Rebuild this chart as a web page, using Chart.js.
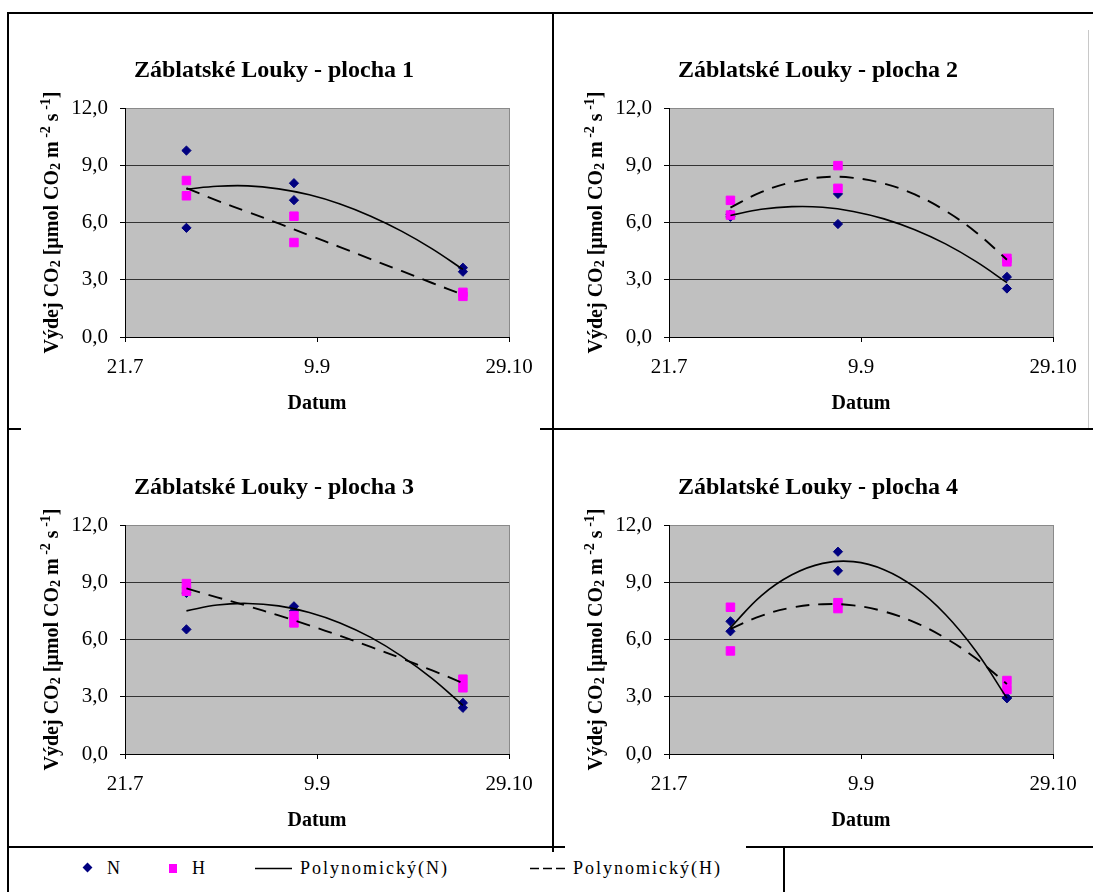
<!DOCTYPE html>
<html>
<head>
<meta charset="utf-8">
<script src="https://cdn.jsdelivr.net/npm/chart.js@4.4.0/dist/chart.umd.min.js"></script>
<style>
html,body{margin:0;padding:0;background:#fff;overflow:hidden;width:1093px;height:892px;}
#wrap{position:relative;width:1093px;height:892px;}
canvas{position:absolute;}
.ln{position:absolute;background:#000;z-index:5;}
.lg{position:absolute;font-family:"Liberation Serif",serif;font-size:18px;letter-spacing:2px;color:#000;line-height:20px;top:858px;white-space:nowrap;}
</style>
</head>
<body>
<div id="wrap">
  <canvas id="c1" width="545" height="415" style="left:8px;top:13px"></canvas>
  <canvas id="c2" width="545" height="415" style="left:552px;top:13px"></canvas>
  <canvas id="c3" width="545" height="415" style="left:8px;top:430px"></canvas>
  <canvas id="c4" width="545" height="415" style="left:552px;top:430px"></canvas>

  <div class="ln" style="left:7px;top:12px;width:2px;height:880px"></div>
  <div class="ln" style="left:7px;top:12px;width:1086px;height:2px"></div>
  <div class="ln" style="left:552px;top:12px;width:2px;height:840px"></div>
  <div class="ln" style="left:552px;top:428px;width:541px;height:2px"></div>
  <div class="ln" style="left:7px;top:428px;width:14px;height:2px"></div>
  <div class="ln" style="left:540px;top:428px;width:14px;height:2px"></div>
  <div class="ln" style="left:7px;top:846px;width:558px;height:2px"></div>
  <div class="ln" style="left:746px;top:846px;width:347px;height:2px"></div>
  <div class="ln" style="left:783px;top:846px;width:2px;height:46px"></div>
  <div class="ln" style="left:1088px;top:30px;width:1px;height:398px;background:#c8c8c8"></div>

  <div style="position:absolute;left:84px;top:864px;width:7px;height:7px;background:#000080;transform:rotate(45deg)"></div>
  <div class="lg" style="left:107px">N</div>
  <div style="position:absolute;left:169px;top:864px;width:8px;height:9px;background:#FF00FF"></div>
  <div class="lg" style="left:192px">H</div>
  <svg style="position:absolute;left:250px;top:860px" width="300" height="16"><line x1="5" y1="8.5" x2="42" y2="8.5" stroke="#000" stroke-width="1.5"/></svg>
  <div class="lg" style="left:300px">Polynomický(N)</div>
  <svg style="position:absolute;left:528px;top:860px" width="45" height="16"><line x1="2" y1="8.5" x2="40" y2="8.5" stroke="#000" stroke-width="1.5" stroke-dasharray="9,4"/></svg>
  <div class="lg" style="left:573px">Polynomický(H)</div>
</div>

<script>
// ---- data ----
// x values are days after 21.7 (21.7 = 0, 9.9 = 50, 29.10 = 100)
const tickValuesX = [0, 50, 100];
const tickLabelsX = ["21.7", "9.9", "29.10"];
const tickLabelsY = ["0,0", "3,0", "6,0", "9,0", "12,0"];
const panelTitles = ["Záblatské Louky - plocha 1", "Záblatské Louky - plocha 2",
                     "Záblatské Louky - plocha 3", "Záblatské Louky - plocha 4"];
const axisTitleX = "Datum";
const yTitleParts = [["Výdej CO", 0], ["2", -1], [" [µmol CO", 0], ["2", -1], [" m", 0], [" -2", 1], [" s", 0], [" -1", 1], ["]", 0]];

const sampleDays = [16, 16, 44, 44, 88, 88];
const plocha1N = [9.77, 5.72, 8.06, 7.17, 3.63, 3.42];
const plocha1H = [8.20, 7.40, 6.33, 4.95, 2.34, 2.13];
const plocha2N = [6.30, 6.42, 7.50, 5.92, 3.15, 2.54];
const plocha2H = [7.16, 6.39, 8.98, 7.79, 4.12, 3.94];
const plocha3N = [8.44, 6.53, 7.74, 7.50, 2.68, 2.42];
const plocha3H = [8.93, 8.53, 7.25, 6.87, 3.92, 3.47];
const plocha4N = [6.95, 6.43, 10.60, 9.60, 2.95, 2.92];
const plocha4H = [7.69, 5.40, 7.93, 7.62, 3.85, 3.38];

// trend curves
const trendDays = [16, 24, 32, 40, 48, 56, 64, 72, 80, 88];
const plocha1TrendN = [7.75, 7.90, 7.92, 7.76, 7.45, 6.97, 6.33, 5.55, 4.62, 3.54];
const plocha1TrendH = [7.80, 7.15, 6.55, 5.95, 5.33, 4.71, 4.08, 3.46, 2.83, 2.22];
const plocha2TrendN = [6.37, 6.69, 6.83, 6.80, 6.58, 6.19, 5.62, 4.88, 3.95, 2.85];
const plocha2TrendH = [6.78, 7.59, 8.11, 8.37, 8.34, 8.04, 7.47, 6.61, 5.48, 4.05];
const plocha3TrendN = [7.50, 7.81, 7.89, 7.76, 7.42, 6.87, 6.11, 5.13, 3.95, 2.55];
const plocha3TrendH = [8.68, 8.21, 7.75, 7.26, 6.74, 6.19, 5.61, 5.01, 4.38, 3.72];
const plocha4TrendN = [6.62, 8.29, 9.39, 9.99, 10.08, 9.66, 8.74, 7.31, 5.37, 2.93];
const plocha4TrendH = [6.55, 7.24, 7.67, 7.85, 7.79, 7.47, 6.90, 6.07, 5.00, 3.67];

// ---- drawing ----
const SERIF = '"Liberation Serif", "Times New Roman", serif';

const plotBg = {
  id: 'plotBg',
  beforeDraw(chart) {
    const {ctx, chartArea: a} = chart;
    ctx.save();
    ctx.fillStyle = '#C0C0C0';
    ctx.fillRect(a.left, a.top, a.right - a.left, a.bottom - a.top);
    ctx.restore();
  }
};

const yTitle = {
  id: 'yTitle',
  afterDraw(chart) {
    const {ctx, chartArea: a} = chart;
    const big = 'bold 20px ' + SERIF, small = 'bold 14px ' + SERIF;
    ctx.save();
    let total = 0;
    for (const [t, k] of yTitleParts) { ctx.font = k === 0 ? big : small; total += ctx.measureText(t).width; }
    ctx.translate(50, (a.top + a.bottom) / 2);
    ctx.rotate(-Math.PI / 2);
    ctx.fillStyle = '#000';
    ctx.textBaseline = 'alphabetic';
    ctx.textAlign = 'left';
    let x = -total / 2;
    for (const [t, k] of yTitleParts) {
      ctx.font = k === 0 ? big : small;
      const dy = k === 0 ? 0 : (k < 0 ? 2 : -8);
      ctx.fillText(t, x, dy);
      x += ctx.measureText(t).width;
    }
    ctx.restore();
  }
};

function pts(xs, ys) { return xs.map((x, i) => ({x: x, y: ys[i]})); }

function makeChart(id, title, nVals, hVals, tnVals, thVals) {
  return new Chart(document.getElementById(id), {
    type: 'scatter',
    data: {
      datasets: [
        {label: 'Polynomický(N)', data: pts(trendDays, tnVals), showLine: true, borderColor: '#000',
         borderWidth: 1.6, pointRadius: 0, pointHoverRadius: 0, tension: 0.4, fill: false},
        {label: 'Polynomický(H)', data: pts(trendDays, thVals), showLine: true, borderColor: '#000',
         borderWidth: 1.9, borderDash: [14, 9], pointRadius: 0, pointHoverRadius: 0, tension: 0.4, fill: false},
        {label: 'H', data: pts(sampleDays, hVals), pointStyle: 'rect', pointRadius: 6,
         backgroundColor: '#FF00FF', borderColor: '#FF00FF', borderWidth: 1},
        {label: 'N', data: pts(sampleDays, nVals), pointStyle: 'rectRot', pointRadius: 4.6,
         backgroundColor: '#000080', borderColor: '#000080', borderWidth: 1}
      ]
    },
    options: {
      responsive: false,
      animation: false,
      devicePixelRatio: 1,
      events: [],
      layout: {padding: {left: 31, right: 44, top: 0, bottom: 0}},
      plugins: {
        legend: {display: false},
        tooltip: {enabled: false},
        title: {display: true, text: title, color: '#000',
                font: {family: SERIF, size: 24, weight: 'bold', lineHeight: 1.2},
                padding: {top: 43, bottom: 23.2}}
      },
      scales: {
        x: {
          type: 'linear', min: 0, max: 100,
          afterBuildTicks: s => { s.ticks = tickValuesX.map(v => ({value: v})); },
          afterFit: s => { s.height = 91; },
          ticks: {callback: (v, i) => tickLabelsX[i], color: '#000', padding: 13,
                  font: {family: SERIF, size: 21}, maxRotation: 0, minRotation: 0, autoSkip: false},
          grid: {color: c => (c.tick && c.tick.value === 100) ? '#8a8a8a' : 'rgba(0,0,0,0)',
                 tickColor: '#000', tickLength: 5, lineWidth: 1},
          border: {display: true, color: '#000', width: 1},
          title: {display: true, text: axisTitleX, color: '#000',
                  font: {family: SERIF, size: 20, weight: 'bold', lineHeight: 1.2},
                  padding: {top: 0, bottom: 12}}
        },
        y: {
          type: 'linear', min: 0, max: 12,
          afterFit: s => { s.width = 86; },
          ticks: {stepSize: 3, callback: (v, i) => tickLabelsY[i], color: '#000', padding: 12,
                  font: {family: SERIF, size: 21}},
          grid: {color: c => {
                   if (!c.tick) return '#333';
                   if (c.tick.value === 12) return '#8a8a8a';
                   if (c.tick.value === 0) return 'rgba(0,0,0,0)';
                   return '#333';
                 },
                 tickColor: '#000', tickLength: 5, lineWidth: 1},
          border: {display: true, color: '#000', width: 1}
        }
      }
    },
    plugins: [plotBg, yTitle]
  });
}

makeChart('c1', panelTitles[0], plocha1N, plocha1H, plocha1TrendN, plocha1TrendH);
makeChart('c2', panelTitles[1], plocha2N, plocha2H, plocha2TrendN, plocha2TrendH);
makeChart('c3', panelTitles[2], plocha3N, plocha3H, plocha3TrendN, plocha3TrendH);
makeChart('c4', panelTitles[3], plocha4N, plocha4H, plocha4TrendN, plocha4TrendH);
</script>
</body>
</html>
